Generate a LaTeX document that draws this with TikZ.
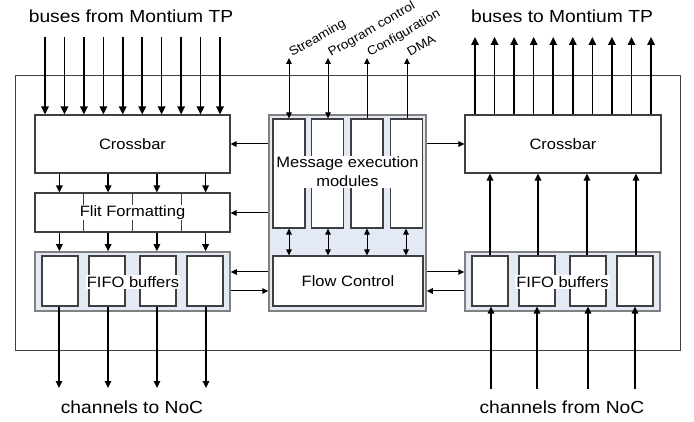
\documentclass[tikz,border=0pt]{standalone}
\usepackage{fontspec}
\newfontfamily\lab[FakeStretch=1.1]{Liberation Sans}
\usetikzlibrary{arrows.meta}
\definecolor{bluefill}{HTML}{E4EAF5}
\definecolor{darkline}{HTML}{3F3F3F}
\definecolor{greyline}{HTML}{808080}
\begin{document}
\begin{tikzpicture}[x=1pt,y=-1pt,
  box/.style={draw=darkline, line width=1.1pt, fill=white, inner sep=0pt, font=\lab\fontsize{15}{19}\selectfont},
  inbox/.style={draw=darkline, line width=1.1pt, fill=white, inner sep=0pt, minimum width=36pt, minimum height=50pt},
  bluebox/.style={draw=greyline, line width=1.5pt, fill=bluefill, inner sep=0pt},
  lbl/.style={fill=white, inner sep=1pt, font=\lab\fontsize{15}{19}\selectfont, align=center},
  outlbl/.style={font=\lab\fontsize{17.5}{21}\selectfont, inner sep=0pt},
  rotlbl/.style={font=\lab\fontsize{12.5}{14}\selectfont, inner sep=0pt, anchor=base west, rotate=30},
  bus/.style={line width=1.5pt, -{Triangle[length=8pt,width=7.5pt]}},
  mid/.style={line width=1.3pt, -{Triangle[length=7pt,width=6.5pt]}},
  hor/.style={line width=1pt, -{Triangle[length=6pt,width=5.5pt]}},
  dbl/.style={line width=1pt, {Triangle[length=6pt,width=5.5pt]}-{Triangle[length=6pt,width=5.5pt]}}
]
\useasboundingbox (0,0) rectangle (694,422);
\fill[white] (0,0) rectangle (694,422);

% outer frame
\node[draw=darkline, line width=1pt, minimum width=665pt, minimum height=274pt, inner sep=0pt] (frame) at (347.5,213) {};

% left side
\node[box, minimum width=195pt, minimum height=58pt] (cbL) at (132.5,144) {Crossbar};
\node[box, minimum width=195pt, minimum height=39pt] (flit) at (132.5,212.5) {};
\foreach \x in {83.75,132.5,181.25} \draw[darkline, line width=1pt] (\x,193) -- (\x,232);
\node[lbl] (flitt) at (flit.center) {Flit Formatting};
\node[bluebox, minimum width=195pt, minimum height=59pt] (fifoL) at (132.5,281.5) {};
\node[inbox] (fl1) at (60,281) {};
\node[inbox] (fl2) at (107,281) {};
\node[inbox] (fl3) at (158,281) {};
\node[inbox] (fl4) at (205,281) {};
\node[lbl] (fifoLt) at (133,282) {FIFO buffers};

% right side
\node[box, minimum width=196pt, minimum height=58pt] (cbR) at (563,144) {Crossbar};
\node[bluebox, minimum width=195pt, minimum height=59pt] (fifoR) at (562.5,281.5) {};
\node[inbox] (fr1) at (490,281) {};
\node[inbox] (fr2) at (537,281) {};
\node[inbox] (fr3) at (588,281) {};
\node[inbox] (fr4) at (635,281) {};
\node[lbl] (fifoRt) at (562.5,282) {FIFO buffers};

% centre
\node[bluebox, minimum width=157pt, minimum height=196pt] (ctr) at (347.5,213) {};
\node[inbox, minimum width=32pt, minimum height=109pt] (m1) at (289,173.5) {};
\node[inbox, minimum width=32pt, minimum height=109pt] (m2) at (327.5,173.5) {};
\node[inbox, minimum width=32pt, minimum height=109pt] (m3) at (367,173.5) {};
\node[inbox, minimum width=32pt, minimum height=109pt] (m4) at (406.5,173.5) {};
\node[lbl] (mext) at (347.5,172) {Message execution\\modules};
\node[box, minimum width=150pt, minimum height=50pt] (flow) at (348,281) {Flow Control};

% outer labels
\node[outlbl] (tl) at (131,16) {buses from Montium TP};
\node[outlbl] (tr) at (562,16) {buses to Montium TP};
\node[outlbl] (bl) at (132,407) {channels to NoC};
\node[outlbl] (br) at (562,407) {channels from NoC};

% buses in / out
\foreach \i in {0,...,9} {
  \coordinate (bi\i) at ({45+\i*19.44},37);
  \draw[bus] (bi\i) -- (bi\i |- cbL.north);
  \coordinate (bo\i) at ({475+\i*19.56},37);
  \draw[bus] (bo\i |- cbR.north) -- (bo\i);
}
% crossbar -> flit -> fifo (left)
\foreach \x in {59.4,108.1,156.9,205.6} {
  \draw[mid] (\x,0 |- cbL.south) -- (\x,0 |- flit.north);
  \draw[mid] (\x,0 |- flit.south) -- (\x,0 |- fifoL.north);
}
% left fifo out
\foreach \n/\x in {fl1/59,fl2/108,fl3/157,fl4/206} {
  \coordinate (o\n) at (\x,388);
  \draw[mid] (\x,0 |- \n.south) -- (o\n);
}
% right fifo in and up
\foreach \n/\x/\u in {fr1/491/490,fr2/537/538,fr3/588/587,fr4/635/636} {
  \coordinate (i\n) at (\x,389);
  \draw[mid] (i\n) -- (\x,0 |- \n.south);
  \draw[mid] (\u,0 |- \n.north) -- (\u,0 |- cbR.south);
}
% horizontal connections
\draw[hor] (ctr.west |- 0,144) -- (cbL.east |- 0,144);
\draw[hor] (ctr.west |- 0,213) -- (flit.east |- 0,213);
\draw[hor] (ctr.west |- 0,272) -- (fifoL.east |- 0,272);
\draw[hor] (fifoL.east |- 0,291) -- (ctr.west |- 0,291);
\draw[hor] (ctr.east |- 0,144) -- (cbR.west |- 0,144);
\draw[hor] (ctr.east |- 0,272) -- (fifoR.west |- 0,272);
\draw[hor] (fifoR.west |- 0,291) -- (ctr.east |- 0,291);

% modules <-> flow control
\foreach \n/\x in {m1/289,m2/328,m3/367,m4/406} {
  \draw[dbl] (\x,0 |- \n.south) -- (\x,0 |- flow.north);
}
% top interfaces
\coordinate (ts) at (289,58);
\coordinate (tp) at (328,58);
\coordinate (tc) at (367,58);
\coordinate (td) at (407,58);
\draw[dbl] (ts) -- (ts |- m1.north);
\draw[dbl] (tp) -- (tp |- m2.north);
\draw[hor] (tc |- m3.north) -- (tc);
\draw[hor] (td |- m4.north) -- (td);
\node[rotlbl] (ls) at (292,57) {Streaming};
\node[rotlbl] (lp) at (331,57) {Program control};
\node[rotlbl] (lc) at (370,57) {Configuration};
\node[rotlbl] (ld) at (410,57) {DMA};
\end{tikzpicture}
\end{document}
